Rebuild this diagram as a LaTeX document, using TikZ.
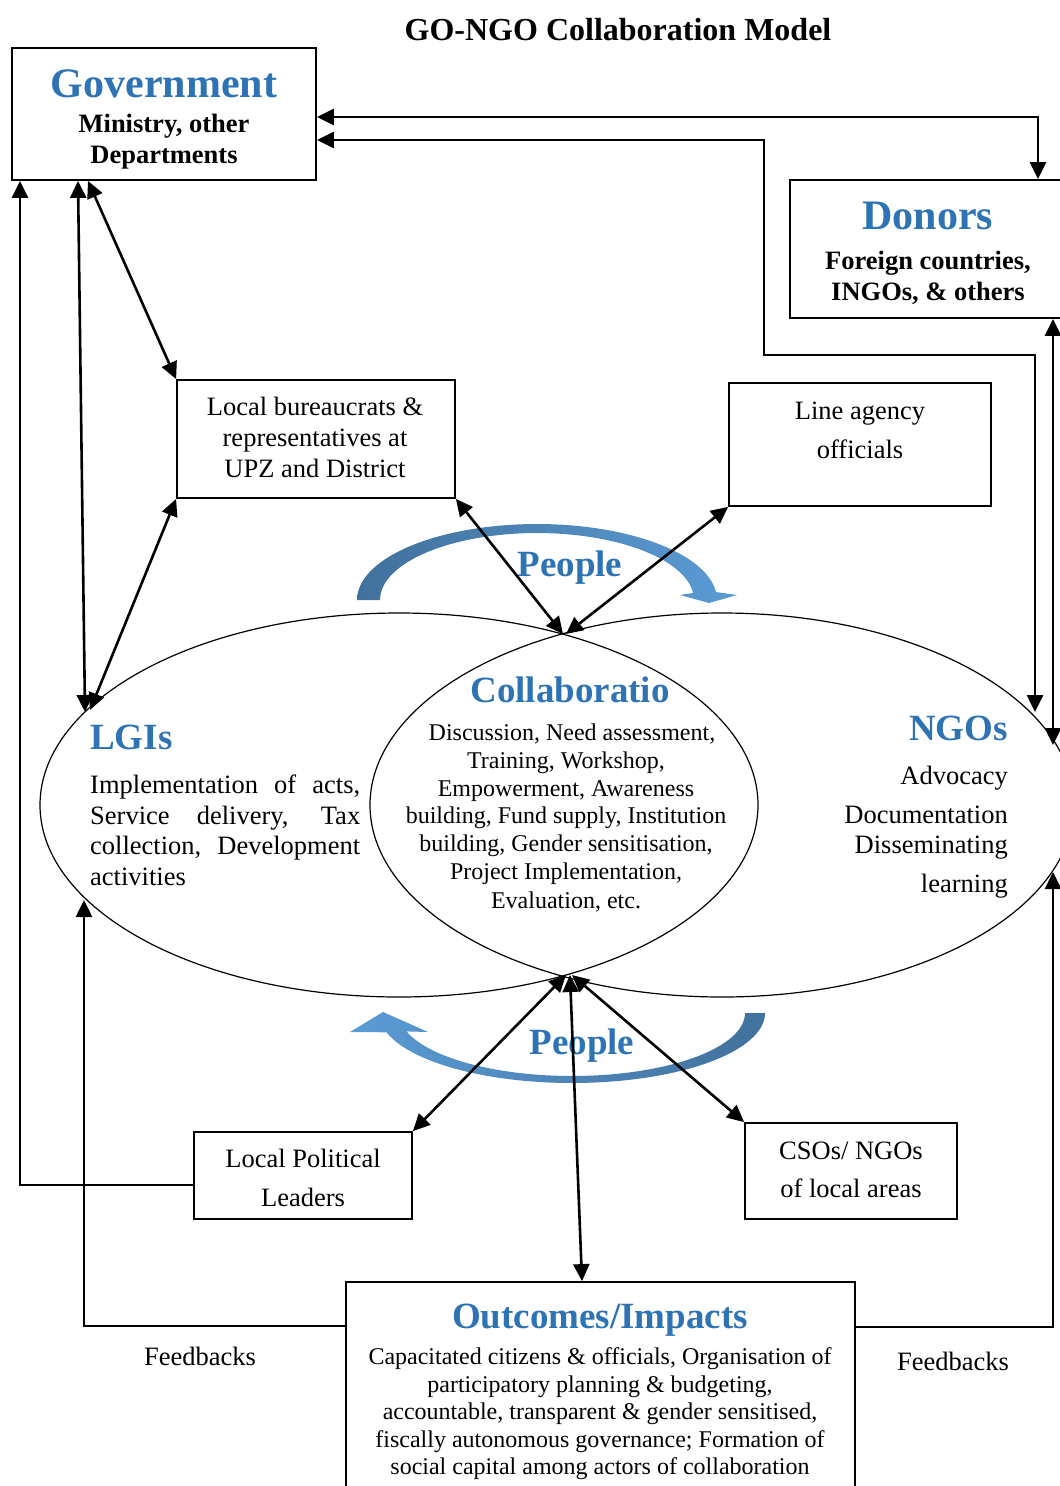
\documentclass[tikz,border=0pt]{standalone}
\usepackage{fontspec}
\setmainfont{Liberation Serif}
\usetikzlibrary{arrows.meta,shapes.geometric}
\definecolor{tblue}{HTML}{2E74B5}
\definecolor{adark}{HTML}{41719C}
\definecolor{alight}{HTML}{5B9BD5}
\newcommand\fsz[1]{\fontsize{#1}{#1}\selectfont}
\begin{document}
\begin{tikzpicture}[x=1pt,y=-1pt,
  gbox/.style={draw, line width=1.8pt, inner sep=0pt},
  ell/.style={draw, ellipse, line width=1.2pt, inner sep=0pt},
  conn/.style={line width=2.6pt, {Triangle[length=17pt,width=16pt]}-{Triangle[length=17pt,width=16pt]}},
  sconnA/.style={line width=2.6pt, {Triangle[length=17pt,width=16pt]}-},
  sconnB/.style={line width=2.6pt, -{Triangle[length=17pt,width=16pt]}},
  bt/.style={font=\fsz{26.5}, inner sep=0pt, anchor=base},
  btb/.style={font=\fsz{26.5}\bfseries, inner sep=0pt, anchor=base},
  st/.style={font=\fsz{24}, inner sep=0pt, anchor=base},
  hdA/.style={font=\fsz{42}\bfseries, text=tblue, inner sep=0pt, anchor=base},
  hdB/.style={font=\fsz{37}\bfseries, text=tblue, inner sep=0pt, anchor=base}]
\useasboundingbox (0,0) rectangle (1060,1486);

% title
\node[font=\fsz{32}\bfseries, inner sep=0pt, anchor=base] (title) at (618,40) {GO-NGO Collaboration Model};

% ellipses
\node[ell, minimum width=718pt, minimum height=384pt] (lgi) at (399,805) {};
\node[ell, minimum width=704pt, minimum height=384pt] (ngo) at (722,805) {};

% people arrows
\shade[left color=adark, right color=alight]
  plot[domain=180:6, samples=60] ({537+180*cos(\x)},{600-76*sin(\x)})
  -- (737,595) -- (709,603) -- (680,595)
  -- plot[domain=6:180, samples=60] ({537+157*cos(\x)},{600-67*sin(\x)}) -- cycle;
\shade[left color=alight, right color=adark]
  plot[domain=0:164, samples=60] ({572+193*cos(\x)},{1013+70*sin(\x)})
  -- (350,1032) -- (383,1012) -- (428,1032)
  -- plot[domain=163:0, samples=60] ({572+173*cos(\x)},{1013+63*sin(\x)}) -- cycle;
\node[hdB] (peopleA) at (570,576) {People};
\node[hdB] (peopleB) at (582,1054) {People};

% government
\node[gbox, minimum width=304pt, minimum height=132pt] (gov) at (164,114) {};
\node[hdA] (govt) at (164,97) {Government};
\node[btb] (govl1) at (164,132) {Ministry, other};
\node[btb] (govl2) at (164,163) {Departments};

% donors
\node[gbox, minimum width=276pt, minimum height=138pt] (don) at (928,249) {};
\node[hdA] (dont) at (928,229) {Donors};
\node[btb] (donl1) at (928,269) {Foreign countries,};
\node[btb] (donl2) at (928,300) {INGOs, \& others};

% local bureaucrats
\node[gbox, minimum width=278pt, minimum height=118pt] (locb) at (316,439) {};
\node[bt] (locbl1) at (315,415) {Local bureaucrats \&};
\node[bt] (locbl2) at (315,446) {representatives at};
\node[bt] (locbl3) at (315,477) {UPZ and District};

% line agency
\node[gbox, minimum width=262pt, minimum height=123pt] (lag) at (860,444.5) {};
\node[bt] (lagl1) at (860,419) {Line agency};
\node[bt] (lagl2) at (860,458) {officials};

% LGIs
\node[hdB, anchor=base west] (lgit) at (90,749) {LGIs};
\node[bt, anchor=base west] (lgil1) at (90,793) {\makebox[270pt][s]{Implementation of acts,}};
\node[bt, anchor=base west] (lgil2) at (90,824) {\makebox[270pt][s]{Service delivery, Tax}};
\node[bt, anchor=base west] (lgil3) at (90,854) {\makebox[270pt][s]{collection, Development}};
\node[bt, anchor=base west] (lgil4) at (90,885) {activities};

% collaboration
\node[hdB] (colt) at (570,702) {Collaboratio};
\node[st] (coll1) at (572,740) {Discussion, Need assessment,};
\node[st] (coll2) at (566,768) {Training, Workshop,};
\node[st] (coll3) at (566,796) {Empowerment, Awareness};
\node[st] (coll4) at (566,823) {building, Fund supply, Institution};
\node[st] (coll5) at (566,851) {building, Gender sensitisation,};
\node[st] (coll6) at (566,879) {Project Implementation,};
\node[st] (coll7) at (566,908) {Evaluation, etc.};

% NGOs
\node[hdB, anchor=base east] (ngot) at (1008,740) {NGOs};
\node[bt, anchor=base east] (ngol1) at (1008,784) {Advocacy};
\node[bt, anchor=base east] (ngol2) at (1008,823) {Documentation};
\node[bt, anchor=base east] (ngol3) at (1008,853) {Disseminating};
\node[bt, anchor=base east] (ngol4) at (1008,892) {learning};

% local political leaders
\node[gbox, minimum width=218pt, minimum height=87pt] (lpl) at (303,1175.5) {};
\node[bt] (lpll1) at (303,1167) {Local Political};
\node[bt] (lpll2) at (303,1206) {Leaders};

% CSOs
\node[gbox, minimum width=212pt, minimum height=96pt] (cso) at (851,1171) {};
\node[bt] (csol1) at (851,1159) {CSOs/ NGOs};
\node[bt] (csol2) at (851,1197) {of local areas};

% outcomes
\node[gbox, minimum width=509pt, minimum height=213pt] (outc) at (600.5,1388.5) {};
\node[hdB] (outt) at (600,1328) {Outcomes/Impacts};
\node[st] (outl1) at (600,1364) {Capacitated citizens \& officials, Organisation of};
\node[st] (outl2) at (600,1392) {participatory planning \& budgeting,};
\node[st] (outl3) at (600,1419) {accountable, transparent \& gender sensitised,};
\node[st] (outl4) at (600,1447) {fiscally autonomous governance; Formation of};
\node[st] (outl5) at (600,1474) {social capital among actors of collaboration};

% feedback labels
\node[bt] (fbA) at (200,1365) {Feedbacks};
\node[bt] (fbB) at (953,1370) {Feedbacks};

% connector end points on ellipses
\coordinate (n1) at (1035,712);
\coordinate (n2) at (1053,745);
\coordinate (n3) at (1053,872);
\coordinate (l1) at (85,712);
\coordinate (l2) at (90,710);
\coordinate (l3) at (84,900);
\coordinate (ct) at (563,634);
\coordinate (ct2) at (566,634);
\coordinate (cb) at (566,975);
\coordinate (cb2) at (570,975);
\coordinate (cb3) at (572,975);

% connectors
\draw[conn] (gov.east |- 0,117) -- (1038,117) -- (don.north -| 1038,0);
\draw[conn] (gov.east |- 0,140) -- (764,140) -- (764,355) -- (1035,355) -- (n1);
\draw[conn] (don.south -| 1053,0) -- (n2);
\draw[conn] (gov.south -| 78,0) -- (l1);
\draw[conn] (gov.south -| 88,0) -- (locb.north west);
\draw[conn] (locb.south west) -- (l2);
\draw[conn] (locb.south east) -- (ct);
\draw[conn] (lag.south west) -- (ct2);
\draw[conn] (cb) -- (lpl.north east);
\draw[conn] (cb2) -- (outc.north -| 582,0);
\draw[conn] (cb3) -- (cso.north west);
\draw[sconnA] (gov.south -| 20,0) -- (20,1185) -- (lpl.west |- 0,1185);
\draw[sconnB] (outc.west |- 0,1326) -- (84,1326) -- (l3);
\draw[sconnB] (outc.east |- 0,1327) -- (1053,1327) -- (n3);
\end{tikzpicture}
\end{document}
